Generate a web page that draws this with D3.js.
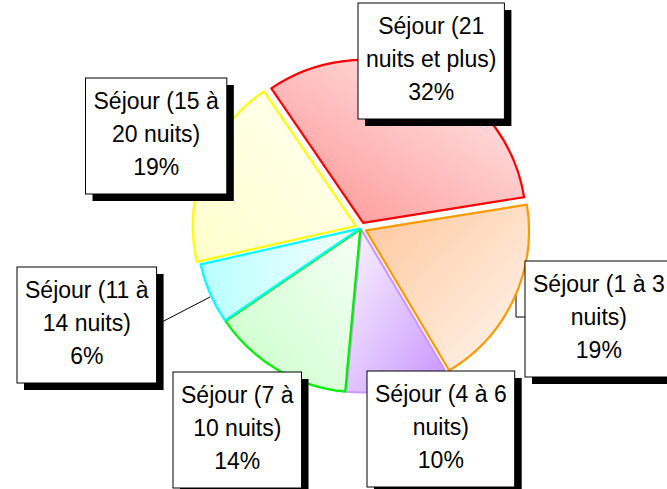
<!DOCTYPE html>
<html>
<head>
<meta charset="utf-8">
<script src="https://cdn.jsdelivr.net/npm/d3@7"></script>
<style>
  html, body { margin: 0; padding: 0; background: #fff; overflow: hidden; }
  svg { display: block; }
  text { font-family: "Liberation Sans", Arial, sans-serif; }
</style>
</head>
<body>
<svg id="chart" width="667" height="489"></svg>
<script>
// ---- data ----
const categories = [
  "Séjour (1 à 3 nuits)",
  "Séjour (4 à 6 nuits)",
  "Séjour (7 à 10 nuits)",
  "Séjour (11 à 14 nuits)",
  "Séjour (15 à 20 nuits)",
  "Séjour (21 nuits et plus)"
];
const values = [19, 10, 14, 6, 19, 32];
const labelLines = [
  ["Séjour (1 à 3", "nuits)"],
  ["Séjour (4 à 6", "nuits)"],
  ["Séjour (7 à", "10 nuits)"],
  ["Séjour (11 à", "14 nuits)"],
  ["Séjour (15 à", "20 nuits)"],
  ["Séjour (21", "nuits et plus)"]
];

// ---- styles / layout ----
const strokeColors = ["#ff9900", "#cc99ff", "#00ee00", "#00ffff", "#ffff00", "#ff0000"];
const gradients = [
  {x1: 0, y1: 0, x2: 1, y2: 1, c1: "#ffc79c", c2: "#fff6ef"},
  {x1: 0, y1: 0, x2: 1, y2: 1, c1: "#fbf6ff", c2: "#c994ff"},
  {x1: 1, y1: 0, x2: 0, y2: 1, c1: "#f6fff6", c2: "#c8ffc8"},
  {x1: 0, y1: 0.5, x2: 1, y2: 0.5, c1: "#b8ffff", c2: "#f6ffff"},
  {x1: 0, y1: 1, x2: 1, y2: 0, c1: "#ffffcc", c2: "#fffff2"},
  {x1: 0, y1: 1, x2: 1, y2: 0, c1: "#ff9090", c2: "#fff0f0"}
];
const explode = [5.5, 1.5, 1.5, 1.5, 5.5, 5.5];
const boxPos = [
  {x: 525, y: 261}, {x: 367, y: 371}, {x: 173, y: 372},
  {x: 17, y: 267}, {x: 85.5, y: 78}, {x: 358, y: 3}
];
const leaders = [
  [[516, 295], [516, 317], [525, 317]],
  null, null,
  [[210, 297], [158, 324]],
  null, null
];

const cx = 361, cy = 228, R = 163;
const startDeg = 80.9;

const svg = d3.select("#chart");
const defs = svg.append("defs");

gradients.forEach((g, i) => {
  const lg = defs.append("linearGradient")
    .attr("id", "grad" + i)
    .attr("x1", g.x1).attr("y1", g.y1).attr("x2", g.x2).attr("y2", g.y2);
  lg.append("stop").attr("offset", "0%").attr("stop-color", g.c1);
  lg.append("stop").attr("offset", "100%").attr("stop-color", g.c2);
});

const pie = d3.pie()
  .sort(null)
  .value(d => d)
  .startAngle(startDeg * Math.PI / 180)
  .endAngle(startDeg * Math.PI / 180 + 2 * Math.PI);

const arcs = pie(values);
const arc = d3.arc().innerRadius(0).outerRadius(R);

// leader lines (under boxes)
const gLead = svg.append("g");
leaders.forEach(pts => {
  if (!pts) return;
  gLead.append("path")
    .attr("d", d3.line()(pts))
    .attr("fill", "none")
    .attr("stroke", "#000")
    .attr("stroke-width", 1);
});

const gPie = svg.append("g").attr("transform", `translate(${cx},${cy})`);
gPie.selectAll("path.slice")
  .data(arcs)
  .join("path")
  .attr("class", "slice")
  .attr("transform", (d, i) => {
    const a = (d.startAngle + d.endAngle) / 2;
    return `translate(${Math.sin(a) * explode[i]},${-Math.cos(a) * explode[i]})`;
  })
  .attr("d", arc)
  .attr("fill", (d, i) => `url(#grad${i})`)
  .attr("stroke", (d, i) => strokeColors[i])
  .attr("stroke-width", 2.2)
  .attr("stroke-linejoin", "round");

// labels
const gLab = svg.append("g");
arcs.forEach((d, i) => {
  const lines = labelLines[i].concat([values[i] + "%"]);
  const g = gLab.append("g");
  const shadow = g.append("rect");
  const box = g.append("rect");
  const texts = lines.map((t, k) => g.append("text")
    .attr("font-size", 23)
    .attr("fill", "#000")
    .attr("text-anchor", "middle")
    .text(t));
  const w = Math.max(...texts.map(t => t.node().getComputedTextLength())) + 16;
  const h = 116;
  const p = boxPos[i];
  shadow.attr("x", p.x + 7).attr("y", p.y + 7).attr("width", w).attr("height", h).attr("fill", "#000");
  box.attr("x", p.x).attr("y", p.y).attr("width", w).attr("height", h)
    .attr("fill", "#fff").attr("stroke", "#000").attr("stroke-width", 1);
  texts.forEach((t, k) => t.attr("x", p.x + w / 2).attr("y", p.y + 30.5 + k * 33));
});
</script>
</body>
</html>
